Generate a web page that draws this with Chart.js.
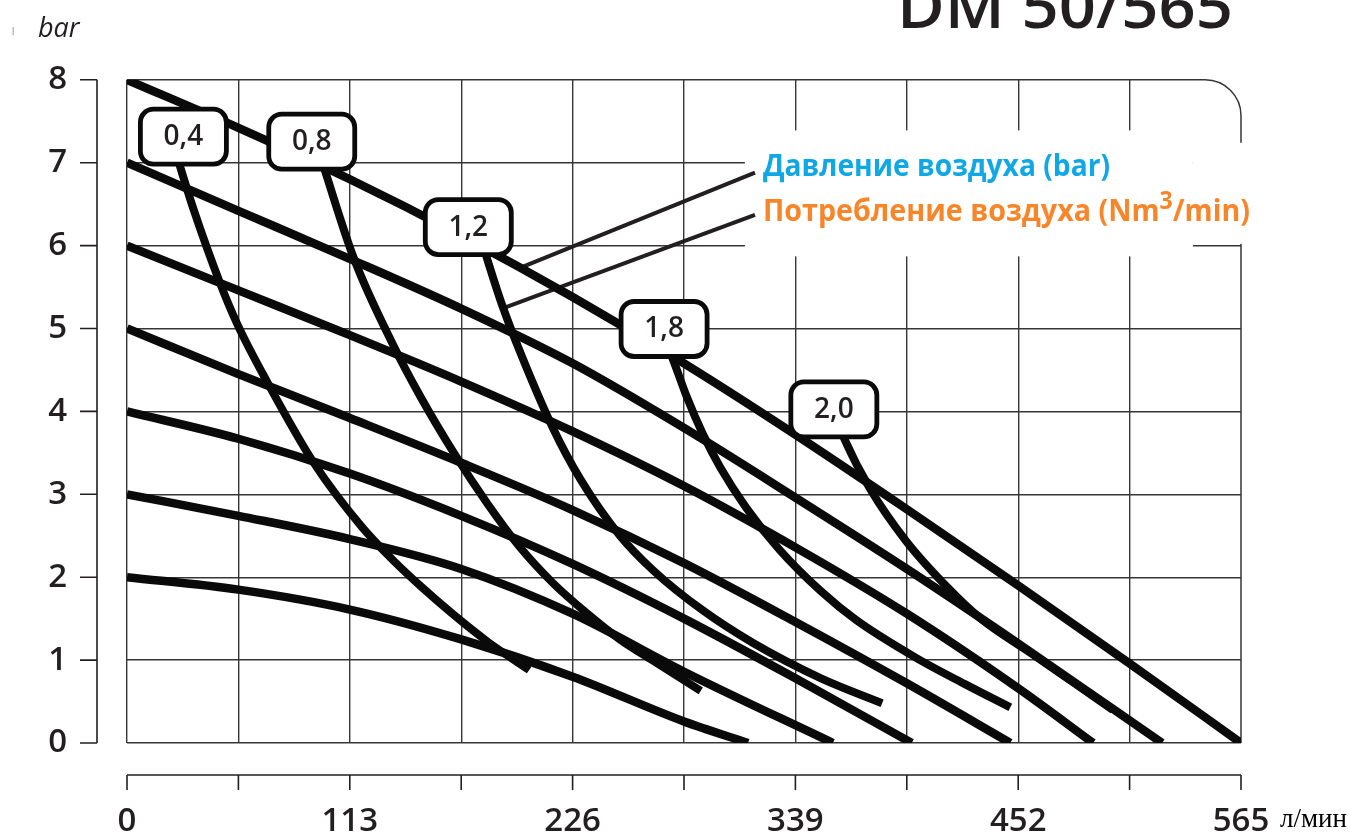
<!DOCTYPE html>
<html lang="ru">
<head>
<meta charset="utf-8">
<title>DM 50/565</title>
<script src="https://cdn.jsdelivr.net/npm/chart.js@4.4.1/dist/chart.umd.min.js"></script>
<style>
  html, body { margin: 0; padding: 0; background: #fff; }
</style>
</head>
<body>
<canvas id="pump" width="1349" height="834"></canvas>
<script>
// --- pump curve data: flow in l/min, head in bar ---

const xTickLabels = [0, 113, 226, 339, 452, 565];
const yTickLabels = [0, 1, 2, 3, 4, 5, 6, 7, 8];

// air pressure lines
const flow8 = [0, 56.5, 113, 169.5, 226, 282.5, 339, 395.5, 452, 508.5, 565];
const head8 = [8, 7.42, 6.80, 6.12, 5.38, 4.58, 3.72, 2.82, 1.90, 0.96, 0];
const flow7 = [0, 56.5, 113, 169.5, 226, 282.5, 339, 395.5, 452, 525];
const head7 = [7, 6.42, 5.84, 5.24, 4.58, 3.80, 2.96, 2.10, 1.20, 0];
const flow6 = [0, 56.5, 113, 169.5, 226, 282.5, 339, 395.5, 452, 490];
const head6 = [6, 5.46, 4.92, 4.36, 3.76, 3.10, 2.36, 1.56, 0.66, 0];
const flow5 = [0, 56.5, 113, 169.5, 226, 282.5, 339, 395.5, 448];
const head5 = [5, 4.45, 3.92, 3.38, 2.81, 2.17, 1.46, 0.72, 0];
const flow4 = [0, 56.5, 113, 169.5, 226, 282.5, 339, 398];
const head4 = [4, 3.67, 3.25, 2.74, 2.16, 1.50, 0.78, 0];
const flow3 = [0, 56.5, 113, 169.5, 226, 282.5, 358];
const head3 = [3, 2.74, 2.46, 2.10, 1.56, 0.86, 0];
const flow2 = [0, 56.5, 113, 169.5, 226, 282.5, 315];
const head2 = [2, 1.85, 1.61, 1.25, 0.80, 0.26, 0];

// air consumption curves (Nm3/min)
const flowC04 = [25, 34, 47, 56, 71, 95, 119, 136, 149, 165, 183, 204];
const headC04 = [7.1, 6.42, 5.56, 5.05, 4.36, 3.37, 2.61, 2.18, 1.89, 1.56, 1.22, 0.88];
const flowC08 = [98.5, 101, 115, 135, 149, 166, 183, 199, 216, 233, 250, 267, 291];
const headC08 = [7.05, 6.86, 5.85, 4.80, 4.17, 3.49, 2.88, 2.37, 1.93, 1.57, 1.25, 0.99, 0.63];
const flowC12 = [180.5, 190, 200, 216, 230, 250, 267, 292, 318, 352, 383];
const headC12 = [6.0, 5.30, 4.68, 3.80, 3.18, 2.50, 2.08, 1.60, 1.20, 0.78, 0.48];
const flowC18 = [273, 277, 284, 292, 301, 314, 331, 352, 370, 400, 425, 448];
const headC18 = [4.85, 4.62, 4.17, 3.73, 3.32, 2.84, 2.33, 1.83, 1.48, 1.03, 0.71, 0.43];
const flowC20 = [360, 364, 377, 395, 416, 433, 460, 480, 500];
const headC20 = [3.9, 3.66, 3.06, 2.44, 1.88, 1.50, 1.06, 0.73, 0.40];

// tags on the consumption curves
const tagText = ['0,4', '0,8', '1,2', '1,8', '2,0'];
const tagFlow = [28.6, 93.7, 173.1, 272.4, 358.5];
const tagHead = [7.32, 7.26, 6.23, 5.0, 4.03];

// leader lines from the legend to a pressure line and a consumption curve
const leaderFlowP = [200.3, 318.5];
const leaderHeadP = [5.74, 6.88];
const leaderFlowC = [190.2, 318.5];
const leaderHeadC = [5.24, 6.37];

const GRID = '#363636';
const INK = '#0a0a0a';
const TEXT = '#231f20';
const BLUE = '#0fa7e4';
const ORANGE = '#f7862a';
const FONT = '"Open Sans", "Noto Sans", sans-serif';

const pts = (xs, ys) => xs.map((x, i) => ({ x: x, y: ys[i] }));

const curve = (xs, ys, width) => ({
    data: pts(xs, ys),
    borderColor: INK,
    borderWidth: width,
    borderCapStyle: 'butt',
    borderJoinStyle: 'round',
    pointRadius: 0,
    fill: false,
    cubicInterpolationMode: 'monotone'
});

const leader = (xs, ys) => ({
    data: pts(xs, ys),
    borderColor: TEXT,
    borderWidth: 4,
    borderCapStyle: 'butt',
    pointRadius: 0,
    fill: false,
    tension: 0
});

const datasets = [
    curve(flow8, head8, 8.5), curve(flow7, head7, 8.5), curve(flow6, head6, 8.5),
    curve(flow5, head5, 8.5), curve(flow4, head4, 8.5), curve(flow3, head3, 8.5),
    curve(flow2, head2, 8.5),
    curve(flowC04, headC04, 8), curve(flowC08, headC08, 8), curve(flowC12, headC12, 8),
    curve(flowC18, headC18, 8), curve(flowC20, headC20, 8),
    leader(leaderFlowP, leaderHeadP), leader(leaderFlowC, leaderHeadC)
];

const xGrid = [];
for (let v = 0; v <= 565; v += 56.5) xGrid.push(v);

// text squeezed horizontally to a given width
function fitText(ctx, parts, x, y, width) {
    let total = 0;
    parts.forEach(p => { ctx.font = p.font; p.w = ctx.measureText(p.text).width; total += p.w; });
    const k = width / total;
    ctx.save();
    ctx.translate(x, y);
    ctx.scale(k, 1);
    ctx.textAlign = 'left';
    ctx.textBaseline = 'alphabetic';
    let cx = 0;
    parts.forEach(p => {
        ctx.font = p.font;
        ctx.fillStyle = p.color;
        ctx.fillText(p.text, cx, -(p.rise || 0));
        cx += p.w;
    });
    ctx.restore();
}

function roundBox(ctx, x, y, w, h, r) {
    ctx.beginPath();
    ctx.moveTo(x + r, y);
    ctx.arcTo(x + w, y, x + w, y + h, r);
    ctx.arcTo(x + w, y + h, x, y + h, r);
    ctx.arcTo(x, y + h, x, y, r);
    ctx.arcTo(x, y, x + w, y, r);
    ctx.closePath();
}

const decor = {
    id: 'decor',
    beforeDatasetsDraw(chart) {
        const { ctx, chartArea: a, scales: { x, y } } = chart;
        ctx.save();
        // top and right frame with the rounded corner
        ctx.strokeStyle = GRID;
        ctx.lineWidth = 1.5;
        ctx.beginPath();
        ctx.moveTo(a.left, a.top);
        ctx.arcTo(a.right, a.top, a.right, a.bottom, 36);
        ctx.lineTo(a.right, a.bottom);
        ctx.stroke();
        // white field behind the legend
        ctx.fillStyle = '#fff';
        const l = x.getPixelForValue(313.4), n = x.getPixelForValue(540.6);
        ctx.fillRect(l, y.getPixelForValue(7.39), n - l, y.getPixelForValue(5.87) - y.getPixelForValue(7.39));
        ctx.fillRect(n, y.getPixelForValue(7.24), a.right + 8 - n, y.getPixelForValue(6.02) - y.getPixelForValue(7.24));
        ctx.restore();
    },
    afterDatasetsDraw(chart) {
        const { ctx, scales: { x, y } } = chart;
        ctx.save();
        tagText.forEach((t, i) => {
            const cx = x.getPixelForValue(tagFlow[i]);
            const cy = y.getPixelForValue(tagHead[i]);
            roundBox(ctx, cx - 43, cy - 27, 86, 55, 13);
            ctx.fillStyle = '#fff';
            ctx.fill();
            ctx.lineWidth = 4.8;
            ctx.strokeStyle = INK;
            ctx.stroke();
            ctx.fillStyle = TEXT;
            ctx.font = '600 28px ' + FONT;
            ctx.textAlign = 'center';
            ctx.textBaseline = 'middle';
            ctx.fillText(t, cx, cy + 1);
        });
        ctx.restore();
    },
    afterDraw(chart) {
        const { ctx, chartArea: a, scales: { x, y } } = chart;
        ctx.save();
        ctx.strokeStyle = TEXT;
        ctx.lineWidth = 1.6;
        // detached y axis
        const ax = a.left - 30;
        ctx.beginPath();
        ctx.moveTo(ax, a.top);
        ctx.lineTo(ax, a.bottom);
        yTickLabels.forEach(v => {
            const py = y.getPixelForValue(v);
            ctx.moveTo(ax - 17, py);
            ctx.lineTo(ax, py);
        });
        // detached x axis
        const ay = a.bottom + 32;
        ctx.moveTo(a.left, ay);
        ctx.lineTo(a.right, ay);
        xGrid.forEach(v => {
            const px = x.getPixelForValue(v);
            ctx.moveTo(px, ay);
            ctx.lineTo(px, ay + 15);
        });
        ctx.stroke();

        // unit captions
        ctx.fillStyle = TEXT;
        ctx.font = 'italic 27px ' + FONT;
        ctx.textAlign = 'left';
        ctx.textBaseline = 'alphabetic';
        ctx.fillText('bar', 38, 37);
        ctx.fillStyle = '#bbb';
        ctx.fillRect(12.5, 27, 1.5, 8);
        ctx.fillStyle = '#000';
        ctx.font = '27px "Liberation Serif", "DejaVu Serif", serif';
        ctx.fillText('л/мин', 1280, 827);

        // title
        fitText(ctx, [{ text: 'DM 50/565', font: '600 62px ' + FONT, color: TEXT }], 897, 28, 336);

        // legend
        fitText(ctx, [{ text: 'Давление воздуха (bar)', font: 'bold 31px ' + FONT, color: BLUE }], 763, 176, 347);
        fitText(ctx, [
            { text: 'Потребление воздуха (Nm', font: 'bold 31px ' + FONT, color: ORANGE },
            { text: '3', font: 'bold 25px ' + FONT, color: ORANGE, rise: 12 },
            { text: '/min)', font: 'bold 31px ' + FONT, color: ORANGE }
        ], 763, 221, 487);
        ctx.restore();
    }
};

new Chart(document.getElementById('pump'), {
    type: 'line',
    data: { datasets: datasets },
    options: {
        responsive: false,
        animation: false,
        layout: { padding: { top: 77, right: 108, bottom: 0, left: 10 } },
        plugins: { legend: { display: false }, tooltip: { enabled: false } },
        scales: {
            x: {
                type: 'linear',
                min: 0,
                max: 565,
                afterBuildTicks: s => { s.ticks = xGrid.map(v => ({ value: v })); },
                afterFit: s => { s.height = 91; },
                border: { display: false },
                grid: {
                    drawTicks: false,
                    lineWidth: 1.4,
                    color: c => (c.tick && c.tick.value >= 565) ? 'rgba(0,0,0,0)' : GRID
                },
                ticks: {
                    autoSkip: false,
                    maxRotation: 0,
                    padding: 59,
                    color: TEXT,
                    font: { family: FONT, size: 33, weight: '600' },
                    callback: v => xTickLabels.includes(v) ? String(v) : ''
                }
            },
            y: {
                type: 'linear',
                min: 0,
                max: 8,
                afterBuildTicks: s => {
                    const t = [];
                    for (let v = 0; v <= 8; v += 0.5) t.push({ value: v });
                    s.ticks = t;
                },
                afterFit: s => { s.width = 117; },
                border: { display: false },
                grid: {
                    drawTicks: false,
                    lineWidth: 1.4,
                    color: c => (c.tick && c.tick.value >= 8) ? 'rgba(0,0,0,0)' : GRID
                },
                ticks: {
                    padding: 60,
                    color: TEXT,
                    font: { family: FONT, size: 33, weight: '600' },
                    callback: v => yTickLabels.includes(v) ? String(v) : ''
                }
            }
        }
    },
    plugins: [decor]
});
</script>
</body>
</html>
